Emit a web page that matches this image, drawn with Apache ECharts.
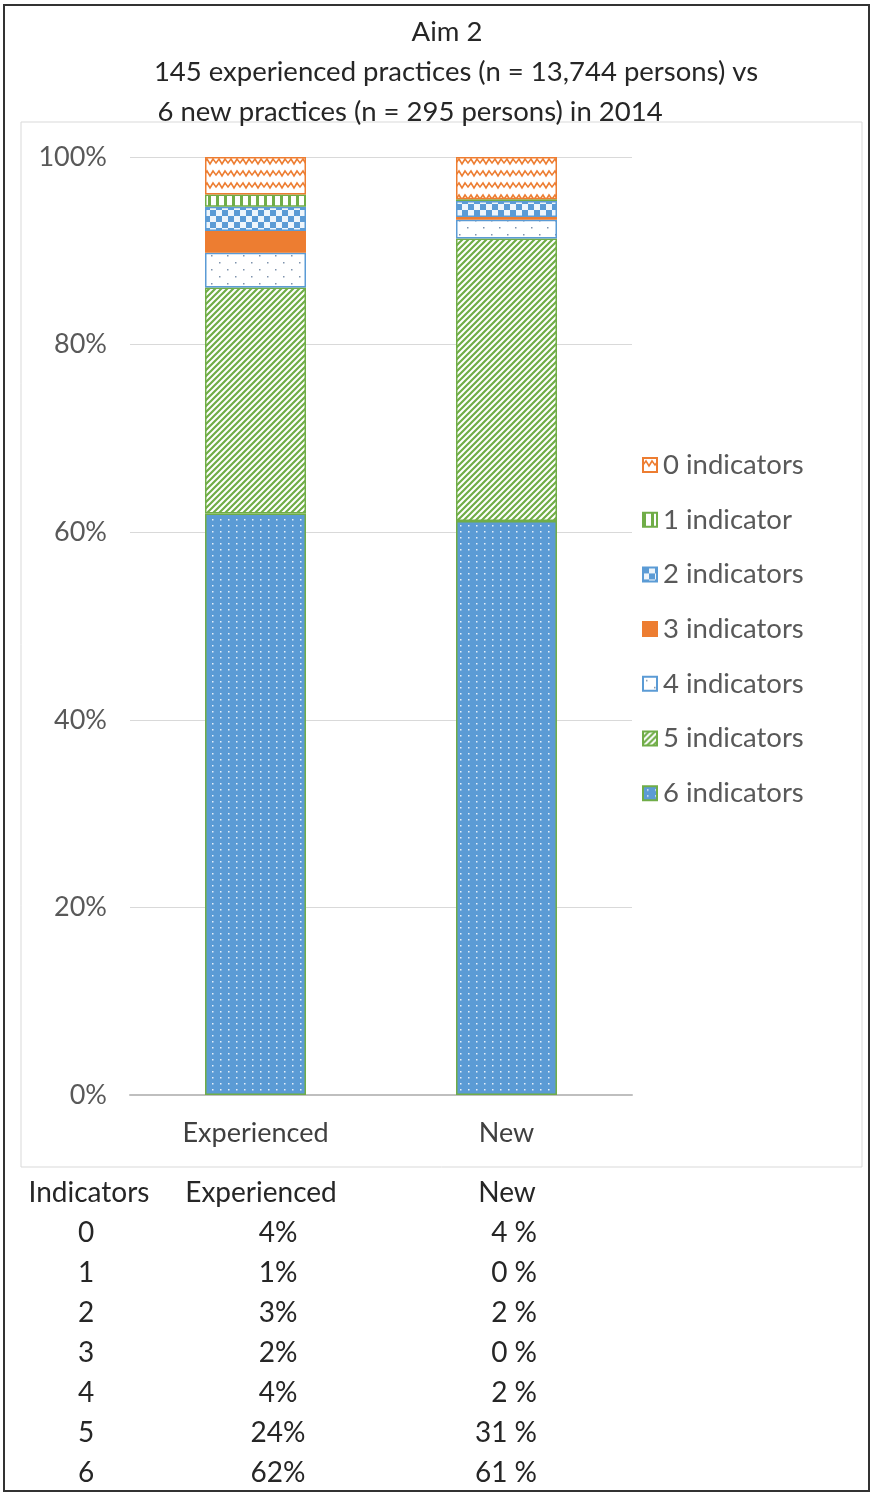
<!DOCTYPE html>
<html>
<head>
<meta charset="utf-8">
<script src="https://cdn.jsdelivr.net/npm/echarts@6/dist/echarts.min.js"></script>
<style>
  html, body { margin: 0; padding: 0; background: #fff; }
  #chart { width: 874px; height: 1495px; }
</style>
</head>
<body>
<div id="chart"></div>
<script>
// data
const categories = ['Experienced', 'New']
const seriesNames = ['0 indicators', '1 indicator', '2 indicators', '3 indicators', '4 indicators', '5 indicators', '6 indicators']
const experienced = [4.0, 1.3, 2.6, 2.3, 3.7, 24.1, 62.0]
const newPractices = [4.5, 0.2, 1.7, 0.3, 2.0, 30.1, 61.2]
const yMin = 0
const yMax = 100
const yStep = 20

const titleLines = [
  'Aim 2',
  '145 experienced practices (n = 13,744 persons) vs',
  '6 new practices (n = 295 persons) in 2014',
]

const tableHeader = ['Indicators', 'Experienced', 'New']
const tableIndicators = ['0', '1', '2', '3', '4', '5', '6']
const tableExperienced = ['4%', '1%', '3%', '2%', '4%', '24%', '62%']
const tableNew = ['4 %', '0 %', '2 %', '0 %', '2 %', '31 %', '61 %']

const FONT = 'Lato'
const BLUE = '#5B9BD5'
const ORANGE = '#ED7D31'
const GREEN = '#70AD47'

// pattern fills like the excel ones
function makePattern(w, h, draw) {
  const c = document.createElement('canvas')
  c.width = w
  c.height = h
  const ctx = c.getContext('2d')
  draw(ctx)
  return { image: c, repeat: 'repeat' }
}

const patterns = [
  // 0: zigzag
  makePattern(12, 12, (ctx) => {
    ctx.fillStyle = '#fff'
    ctx.fillRect(0, 0, 12, 12)
    ctx.strokeStyle = ORANGE
    ctx.lineWidth = 1.6
    ctx.beginPath()
    ctx.moveTo(-1.5, 9)
    ctx.lineTo(3, 3)
    ctx.lineTo(6, 8)
    ctx.lineTo(9, 3)
    ctx.lineTo(13.5, 9)
    ctx.stroke()
  }),
  // 1: vertical stripes
  makePattern(8, 4, (ctx) => {
    ctx.fillStyle = '#fff'
    ctx.fillRect(0, 0, 8, 4)
    ctx.fillStyle = GREEN
    ctx.fillRect(0, 0, 3, 4)
  }),
  // 2: checker
  makePattern(12, 12, (ctx) => {
    ctx.fillStyle = '#EEF5FB'
    ctx.fillRect(0, 0, 12, 12)
    ctx.fillStyle = BLUE
    ctx.fillRect(0, 0, 6, 6)
    ctx.fillRect(6, 6, 6, 6)
  }),
  // 3: solid
  ORANGE,
  // 4: sparse dots
  makePattern(16, 14, (ctx) => {
    ctx.fillStyle = '#fff'
    ctx.fillRect(0, 0, 16, 14)
    ctx.fillStyle = '#7F93AD'
    ctx.fillRect(3, 3, 1.5, 1.5)
    ctx.fillRect(11, 10, 1.5, 1.5)
  }),
  // 5: diagonal stripes
  makePattern(6, 6, (ctx) => {
    ctx.fillStyle = '#fff'
    ctx.fillRect(0, 0, 6, 6)
    ctx.strokeStyle = GREEN
    ctx.lineWidth = 2.2
    ctx.beginPath()
    ctx.moveTo(-1, 7)
    ctx.lineTo(7, -1)
    ctx.moveTo(-4, 4)
    ctx.lineTo(4, -4)
    ctx.moveTo(2, 10)
    ctx.lineTo(10, 2)
    ctx.stroke()
  }),
  // 6: blue with white dots
  makePattern(8, 6, (ctx) => {
    ctx.fillStyle = BLUE
    ctx.fillRect(0, 0, 8, 6)
    ctx.fillStyle = '#E6F0FA'
    ctx.fillRect(4, 3, 1.5, 1.5)
  }),
]
const borders = [ORANGE, GREEN, BLUE, ORANGE, BLUE, GREEN, GREEN]

// series, 6 indicators at the bottom of the stack
const series = []
for (let i = seriesNames.length - 1; i >= 0; i--) {
  series.push({
    name: seriesNames[i],
    type: 'bar',
    stack: 'total',
    barWidth: 101,
    data: [experienced[i], newPractices[i]],
    itemStyle: {
      color: patterns[i],
      borderColor: borders[i],
      borderWidth: 1.5,
    },
    emphasis: { disabled: true },
  })
}

// title and table as text
const graphic = [
  { type: 'rect', shape: { x: 4, y: 5, width: 865, height: 1486 }, style: { fill: 'none', stroke: '#333', lineWidth: 2 } },
  { type: 'rect', shape: { x: 21, y: 122, width: 841, height: 1045 }, style: { fill: 'none', stroke: '#D9D9D9', lineWidth: 1 } },
]
const titleX = [447, 456, 410]
titleLines.forEach((t, i) => {
  graphic.push({
    type: 'text', x: titleX[i], y: 32 + i * 40,
    style: { text: t, font: `27.5px ${FONT}`, fill: '#262626', align: 'center', verticalAlign: 'middle' },
  })
})
const TFONT = `28px ${FONT}`
const headX = [89, 261, 507]
tableHeader.forEach((t, i) => {
  graphic.push({
    type: 'text', x: headX[i], y: 1193,
    style: { text: t, font: TFONT, fill: '#262626', align: 'center', verticalAlign: 'middle' },
  })
})
tableIndicators.forEach((t, r) => {
  const y = 1233 + r * 40
  graphic.push({ type: 'text', x: 86, y, style: { text: t, font: TFONT, fill: '#262626', align: 'center', verticalAlign: 'middle' } })
  graphic.push({ type: 'text', x: 278, y, style: { text: tableExperienced[r], font: TFONT, fill: '#262626', align: 'center', verticalAlign: 'middle' } })
  graphic.push({ type: 'text', x: 537, y, style: { text: tableNew[r], font: TFONT, fill: '#262626', align: 'right', verticalAlign: 'middle' } })
})

const chart = echarts.init(document.getElementById('chart'))
chart.setOption({
  animation: false,
  backgroundColor: '#fff',
  textStyle: { fontFamily: FONT },
  grid: { left: 130, right: 242, top: 157, bottom: 400 },
  legend: {
    orient: 'vertical',
    left: 637,
    top: 446,
    data: seriesNames,
    icon: 'rect',
    itemWidth: 14,
    itemHeight: 14,
    itemGap: 26.7,
    selectedMode: false,
    textStyle: { fontSize: 27.5, lineHeight: 28, color: '#595959', fontFamily: FONT, padding: [0, 0, 0, 1] },
  },
  xAxis: {
    type: 'category',
    data: categories,
    axisLine: { lineStyle: { color: '#BFBFBF', width: 2 } },
    axisTick: { show: false },
    axisLabel: { fontSize: 27, color: '#404040', margin: 25 },
  },
  yAxis: {
    type: 'value',
    min: yMin,
    max: yMax,
    interval: yStep,
    axisLine: { show: false },
    axisTick: { show: false },
    splitLine: { lineStyle: { color: '#D9D9D9', width: 1 } },
    axisLabel: { fontSize: 27, color: '#595959', margin: 23, formatter: '{value}%' },
  },
  series,
  graphic,
})
</script>
</body>
</html>
